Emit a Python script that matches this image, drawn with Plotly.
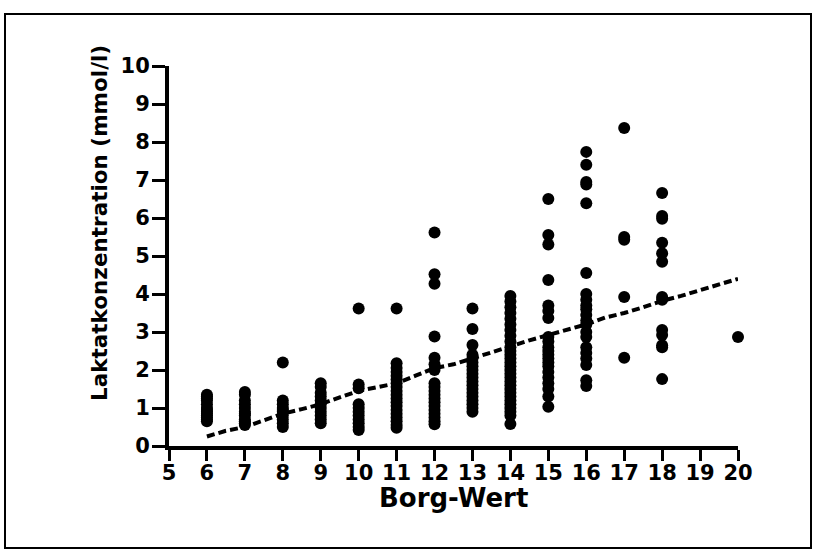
import plotly.graph_objects as go

# Borg values and lactate concentrations (mmol/l) per Borg value
lactate_6 = [1.35, 1.3, 1.25, 1.2, 1.1, 1.0, 0.95, 0.9, 0.85, 0.8, 0.75, 0.7, 0.65]
lactate_7 = [1.42, 1.35, 1.2, 1.1, 1.0, 0.9, 0.85, 0.8, 0.7, 0.65, 0.6, 0.55]
lactate_8 = [2.2, 1.2, 1.1, 1.0, 0.95, 0.9, 0.8, 0.7, 0.6, 0.5]
lactate_9 = [1.65, 1.55, 1.4, 1.3, 1.2, 1.1, 1.0, 0.9, 0.8, 0.7, 0.6]
lactate_10 = [3.62, 1.62, 1.52, 1.1, 1.0, 0.9, 0.8, 0.7, 0.6, 0.5, 0.42]
lactate_11 = [3.62, 2.18, 2.05, 1.95, 1.85, 1.75, 1.65, 1.55, 1.45, 1.35, 1.25,
              1.15, 1.05, 0.95, 0.85, 0.75, 0.65, 0.55, 0.48]
lactate_12 = [5.62, 4.52, 4.27, 2.88, 2.32, 2.15, 2.0, 1.65, 1.55, 1.45, 1.35,
              1.25, 1.15, 1.05, 0.95, 0.85, 0.75, 0.65, 0.57]
lactate_13 = [3.62, 3.08, 2.66, 2.4, 2.3, 2.2, 2.1, 2.0, 1.9, 1.8, 1.7, 1.6,
              1.5, 1.4, 1.3, 1.2, 1.1, 1.0, 0.9]
lactate_14 = [3.95, 3.8, 3.65, 3.5, 3.35, 3.2, 3.05, 2.9, 2.75, 2.6, 2.5, 2.4,
              2.3, 2.2, 2.1, 2.0, 1.9, 1.8, 1.7, 1.6, 1.5, 1.4, 1.3, 1.2, 1.1,
              1.0, 0.9, 0.8, 0.58]
lactate_15 = [6.5, 5.55, 5.3, 4.37, 3.7, 3.55, 3.37, 2.87, 2.75, 2.6, 2.5, 2.4,
              2.3, 2.2, 2.1, 1.95, 1.8, 1.65, 1.5, 1.3, 1.03]
lactate_16 = [7.74, 7.4, 6.95, 6.88, 6.39, 4.55, 4.0, 3.85, 3.7, 3.6, 3.45, 3.3,
              3.2, 3.0, 2.87, 2.6, 2.45, 2.3, 2.13, 1.73, 1.58]
lactate_17 = [8.37, 5.5, 5.43, 3.92, 2.32]
lactate_18 = [6.66, 6.05, 5.98, 5.35, 5.07, 4.85, 3.92, 3.85, 3.05, 2.92, 2.65, 2.6, 1.76]
lactate_20 = [2.87]

borg_columns = [6, 7, 8, 9, 10, 11, 12, 13, 14, 15, 16, 17, 18, 20]
lactate_columns = [lactate_6, lactate_7, lactate_8, lactate_9, lactate_10, lactate_11,
                   lactate_12, lactate_13, lactate_14, lactate_15, lactate_16,
                   lactate_17, lactate_18, lactate_20]

# smoothed trend (dashed line)
trend_x = [6, 6.5, 7, 7.5, 8, 8.5, 9, 9.5, 10, 10.5, 11, 11.5, 12, 12.5, 13, 13.5,
           14, 14.5, 15, 15.5, 16, 16.5, 17, 17.5, 18, 18.5, 19, 19.5, 20]
trend_y = [0.25, 0.4, 0.5, 0.68, 0.85, 0.97, 1.1, 1.28, 1.45, 1.55, 1.65, 1.85,
           2.05, 2.15, 2.3, 2.45, 2.62, 2.78, 2.92, 3.05, 3.2, 3.38, 3.5, 3.65,
           3.82, 3.95, 4.1, 4.25, 4.4]

x_ticks = list(range(5, 21))
y_ticks = list(range(0, 11))

xs, ys = [], []
for b, col in zip(borg_columns, lactate_columns):
    xs += [b] * len(col)
    ys += col

fig = go.Figure()
fig.add_trace(go.Scatter(
    x=trend_x, y=trend_y, mode="lines",
    line=dict(color="black", width=4, dash="8px,4px"),
    hoverinfo="skip", showlegend=False, cliponaxis=False))
fig.add_trace(go.Scatter(
    x=xs, y=ys, mode="markers",
    marker=dict(color="black", size=12, line=dict(width=0)),
    showlegend=False, cliponaxis=False))

# plot area pixels: x 169..738, y 66..446
L, R, T, B = 169, 738, 66, 446
W, H = R - L, B - T

def px(x):
    return (x - L) / W

def py(y):
    return (B - y) / H

font_family = "DejaVu Sans, Verdana, sans-serif"

fig.update_layout(
    width=816, height=552,
    margin=dict(l=L, r=816 - R, t=T, b=552 - B),
    paper_bgcolor="white", plot_bgcolor="white",
    font=dict(family=font_family, color="black"),
    showlegend=False,
    xaxis=dict(range=[5, 20], tickmode="array", tickvals=x_ticks,
               ticktext=[str(v) for v in x_ticks],
               showline=True, linecolor="black", linewidth=4,
               ticks="outside", ticklen=11, tickwidth=3, tickcolor="black",
               ticklabelstandoff=-6,
               showgrid=False, zeroline=False,
               tickfont=dict(size=21, family=font_family, weight="bold")),
    yaxis=dict(range=[0, 10], tickmode="array", tickvals=y_ticks,
               ticktext=[str(v) for v in y_ticks],
               showline=True, linecolor="black", linewidth=4,
               ticks="outside", ticklen=13, tickwidth=3, tickcolor="black",
               ticklabelstandoff=-2,
               showgrid=False, zeroline=False,
               tickfont=dict(size=21, family=font_family, weight="bold")),
    annotations=[
        dict(text="<b>Borg-Wert</b>", xref="paper", yref="paper",
             x=0.5, y=py(498), xanchor="center", yanchor="middle",
             showarrow=False, font=dict(size=26, family=font_family)),
        dict(text="<b>Laktatkonzentration (mmol/l)</b>", xref="paper", yref="paper",
             x=px(100), y=py(223), xanchor="center", yanchor="middle",
             textangle=-90, showarrow=False, font=dict(size=21.5, family=font_family)),
    ],
    shapes=[
        dict(type="rect", xref="paper", yref="paper",
             x0=px(5), x1=px(811), y0=py(548), y1=py(14),
             line=dict(color="black", width=2), fillcolor="rgba(0,0,0,0)",
             layer="below"),
    ],
)

fig.write_html("out.html")
